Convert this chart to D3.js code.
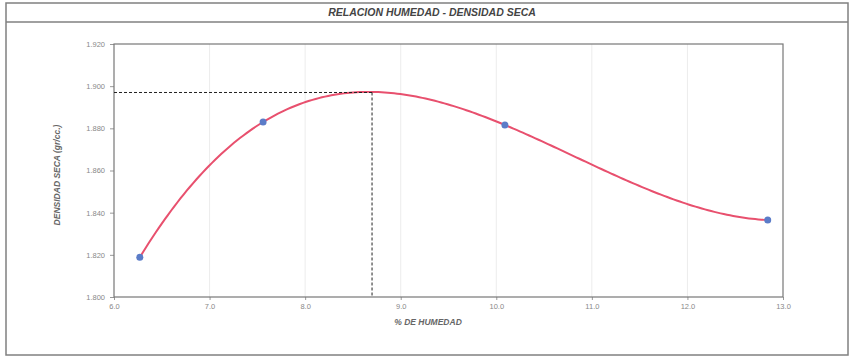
<!DOCTYPE html>
<html><head><meta charset="utf-8">
<script src="https://cdn.jsdelivr.net/npm/d3@7/dist/d3.min.js"></script>
<style>body{margin:0;background:#fff}svg{display:block}</style>
</head><body>
<svg id="c" width="852" height="358"></svg>
<script>
const humidity = [6.27, 7.56, 10.09, 12.84];
const density = [1.8188, 1.883, 1.8816, 1.8365];
const xTicks = [6, 7, 8, 9, 10, 11, 12, 13];
const yTicks = [1.80, 1.82, 1.84, 1.86, 1.88, 1.90, 1.92];
const optHumidity = 8.7;
const maxDensity = 1.897;
const title = "RELACION HUMEDAD - DENSIDAD SECA";
const xLabel = "% DE HUMEDAD";
const yLabel = "DENSIDAD SECA (gr/cc.)";

const svg = d3.select("#c");
const font = "'Liberation Sans', Arial, sans-serif";
const L = 114, R = 783, T = 44, B = 297;
const x = d3.scaleLinear().domain([6, 13]).range([L, R]);
const y = d3.scaleLinear().domain([1.80, 1.92]).range([B, T]);

// outer frame
svg.append("rect").attr("x", 6).attr("y", 3).attr("width", 842).attr("height", 352)
  .attr("fill", "none").attr("stroke", "#808080").attr("stroke-width", 1.5);
svg.append("line").attr("x1", 6).attr("x2", 848).attr("y1", 22).attr("y2", 22)
  .attr("stroke", "#808080").attr("stroke-width", 1.5);
svg.append("text").attr("x", 432).attr("y", 16).attr("text-anchor", "middle")
  .attr("font-family", font).attr("font-size", 10.5).attr("font-weight", "bold")
  .attr("font-style", "italic").attr("fill", "#444").text(title);

// gridlines
svg.append("g").selectAll("line").data(xTicks.slice(1, -1)).join("line")
  .attr("x1", d => x(d)).attr("x2", d => x(d)).attr("y1", T).attr("y2", B)
  .attr("stroke", "#ececec").attr("stroke-width", 1);

// axes
const xAxis = svg.append("g").attr("transform", `translate(0,${B})`)
  .call(d3.axisBottom(x).tickValues(xTicks).tickFormat(d3.format(".1f")).tickSize(3));
const yAxis = svg.append("g").attr("transform", `translate(${L},0)`)
  .call(d3.axisLeft(y).tickValues(yTicks).tickFormat(d3.format(",.3f")).tickSize(4));
[xAxis, yAxis].forEach(g => {
  g.select(".domain").remove();
  g.selectAll("line").attr("stroke", "#999");
  g.selectAll("text").attr("font-family", font).attr("font-size", 7.5).attr("fill", "#888");
});
xAxis.selectAll("text").attr("dy", "0.85em");
yAxis.selectAll("text").attr("dx", "-2px");

// plot frame
svg.append("rect").attr("x", L).attr("y", T).attr("width", R - L).attr("height", B - T)
  .attr("fill", "none").attr("stroke", "#777").attr("stroke-width", 1.2);

// axis labels
svg.append("text").attr("x", 428).attr("y", 325).attr("text-anchor", "middle")
  .attr("font-family", font).attr("font-size", 8.5).attr("font-weight", "bold")
  .attr("font-style", "italic").attr("fill", "#666").text(xLabel);
svg.append("text").attr("transform", `translate(60,175) rotate(-90)`).attr("text-anchor", "middle")
  .attr("font-family", font).attr("font-size", 8.5).attr("font-weight", "bold")
  .attr("font-style", "italic").attr("fill", "#666").text(yLabel);

// cubic polynomial trend through the points (Lagrange form)
function poly(v) {
  let s = 0;
  for (let i = 0; i < humidity.length; i++) {
    let t = density[i];
    for (let j = 0; j < humidity.length; j++) if (j !== i) t *= (v - humidity[j]) / (humidity[i] - humidity[j]);
    s += t;
  }
  return s;
}
const xs = d3.range(humidity[0], humidity[humidity.length - 1] + 1e-9, (humidity[humidity.length - 1] - humidity[0]) / 200);
svg.append("path").datum(xs)
  .attr("d", d3.line().x(d => x(d)).y(d => y(poly(d))))
  .attr("fill", "none").attr("stroke", "#e8506e").attr("stroke-width", 2);

// dashed guide lines
svg.append("line").attr("x1", L).attr("x2", x(optHumidity)).attr("y1", y(maxDensity)).attr("y2", y(maxDensity))
  .attr("stroke", "#222").attr("stroke-width", 1).attr("stroke-dasharray", "3,2");
svg.append("line").attr("x1", x(optHumidity)).attr("x2", x(optHumidity)).attr("y1", y(maxDensity)).attr("y2", B)
  .attr("stroke", "#222").attr("stroke-width", 1).attr("stroke-dasharray", "3,2");

// points
svg.append("g").selectAll("circle").data(humidity).join("circle")
  .attr("cx", d => x(d)).attr("cy", (d, i) => y(density[i])).attr("r", 3.5)
  .attr("fill", "#5b7cc8");
</script>
</body></html>
